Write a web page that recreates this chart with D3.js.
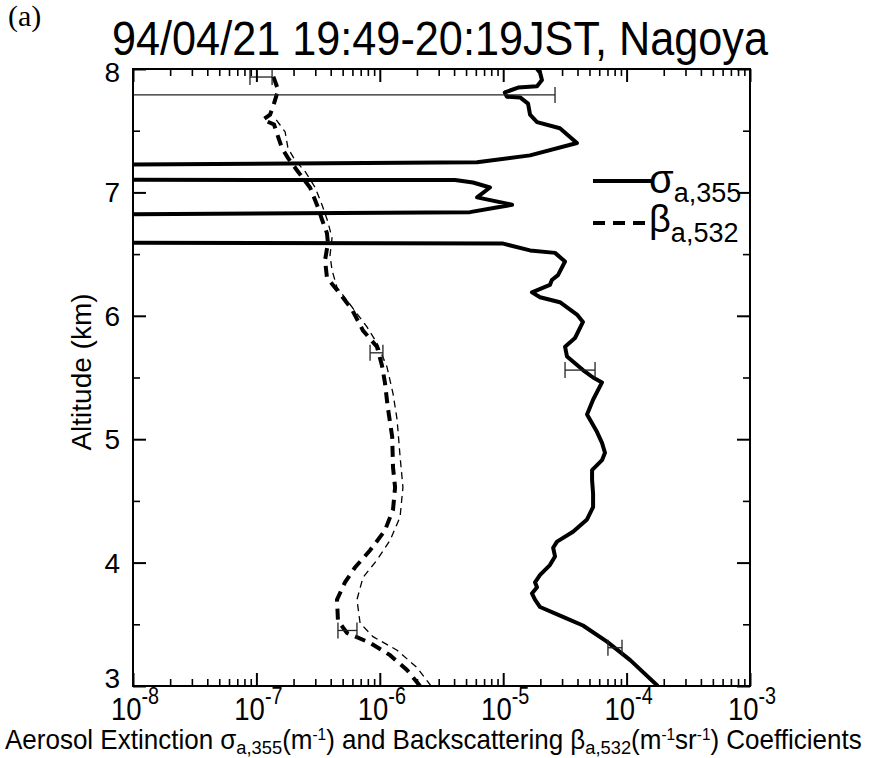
<!DOCTYPE html>
<html>
<head>
<meta charset="utf-8">
<script src="https://cdn.jsdelivr.net/npm/d3@7"></script>
<style>
  html, body { margin: 0; padding: 0; background: #fff; }
  svg { display: block; }
  text { font-family: "Liberation Sans", Arial, Helvetica, sans-serif; fill: #000; }
</style>
</head>
<body>
<svg id="chart" width="869" height="758"></svg>
<script>
// ---------------- data ----------------
const titleText = "94/04/21 19:49-20:19JST, Nagoya";
const panelLabel = "(a)";
const xTickValues = [1e-8, 1e-7, 1e-6, 1e-5, 1e-4, 1e-3];
const xTickExponents = ["-8", "-7", "-6", "-5", "-4", "-3"];
const yTickValues = [3, 4, 5, 6, 7, 8];
const yMinorValues = [3.5, 4.5, 5.5, 6.5, 7.5];

// Extinction sigma_a,355 (m^-1): altitude (km) and value; 1e-12 marks values below the axis (off-scale)
const sigmaAlt = [3.00,3.21,3.36,3.49,3.56,3.64,3.70,3.75,3.80,3.84,3.90,3.98,4.05,4.12,4.17,4.25,4.35,4.45,4.56,4.67,4.75,4.83,4.89,4.97,5.06,5.20,5.32,5.46,5.50,5.56,5.67,5.75,5.82,5.95,6.01,6.11,6.15,6.19,6.25,6.29,6.33,6.44,6.51,6.53,6.585,6.60,6.80,6.84,6.90,6.96,7.04,7.08,7.10,7.105,7.20,7.245,7.30,7.40,7.52,7.57,7.63,7.72,7.77,7.775,7.81,7.85,7.86,7.91,7.97,8.00];
const sigmaVal = [1.79e-4,1.07e-4,6.93e-5,4.43e-5,3.05e-5,1.99e-5,1.81e-5,1.71e-5,1.88e-5,1.81e-5,1.99e-5,2.39e-5,2.63e-5,2.54e-5,2.73e-5,3.68e-5,4.78e-5,5.35e-5,5.35e-5,5.25e-5,5.25e-5,6.32e-5,6.68e-5,6.32e-5,5.75e-5,4.78e-5,5.35e-5,6.32e-5,5.35e-5,4.43e-5,3.29e-5,3.17e-5,3.82e-5,4.43e-5,3.96e-5,2.88e-5,1.99e-5,1.71e-5,2.39e-5,2.48e-5,2.78e-5,3.17e-5,2.63e-5,1.65e-5,1.0e-5,1e-12,1e-12,5.38e-6,1.18e-5,6.14e-6,7.81e-6,5.69e-6,4.07e-6,1e-12,1e-12,6.14e-6,1.65e-5,3.96e-5,2.88e-5,1.88e-5,1.65e-5,1.59e-5,1.37e-5,1.07e-5,1.03e-5,1.32e-5,1.88e-5,2.06e-5,1.99e-5,1.88e-5];

// Backscattering beta_a,532 (m^-1 sr^-1), thick dashed
const betaAlt = [3.00,3.13,3.25,3.35,3.43,3.53,3.70,3.84,3.96,4.10,4.26,4.43,4.61,4.77,5.02,5.26,5.46,5.60,5.75,5.88,6.05,6.18,6.31,6.45,6.59,6.67,6.78,6.88,7.04,7.18,7.28,7.36,7.45,7.55,7.59,7.63,7.69,7.83,7.95];
const betaVal = [2.12e-6,1.66e-6,1.21e-6,8.34e-7,5.42e-7,4.58e-7,4.50e-7,5.22e-7,6.29e-7,8.34e-7,1.10e-6,1.28e-6,1.33e-6,1.28e-6,1.26e-6,1.16e-6,1.10e-6,1.04e-6,9.48e-7,7.31e-7,5.96e-7,4.75e-7,3.73e-7,3.60e-7,3.80e-7,3.73e-7,3.40e-7,3.15e-7,2.72e-7,2.13e-7,1.80e-7,1.61e-7,1.50e-7,1.39e-7,1.13e-7,1.29e-7,1.36e-7,1.50e-7,1.36e-7];

// Second backscattering profile, thin dashed
const beta2Alt = [3.00,3.15,3.29,3.40,3.51,3.70,3.88,4.02,4.18,4.37,4.61,4.86,5.16,5.37,5.59,5.78,5.91,6.07,6.23,6.37,6.49,6.63,6.76,6.90,7.04,7.17,7.26,7.36,7.49,7.60];
const beta2Val = [2.60e-6,2.00e-6,1.38e-6,8.81e-7,6.92e-7,6.53e-7,7.31e-7,9.48e-7,1.21e-6,1.46e-6,1.54e-6,1.46e-6,1.38e-6,1.28e-6,1.14e-6,9.48e-7,7.87e-7,5.96e-7,4.50e-7,4.10e-7,3.95e-7,4.10e-7,3.80e-7,3.40e-7,2.99e-7,2.48e-7,2.06e-7,1.80e-7,1.71e-7,1.42e-7];

// Error bars
const sigmaErrAlt = [3.31, 5.56, 7.79];
const sigmaErrLo  = [7.06e-5, 3.17e-5, 1e-12];
const sigmaErrHi  = [9.18e-5, 5.55e-5, 2.63e-5];
const betaErrAlt = [3.45, 5.70, 7.935];
const betaErrLo  = [4.58e-7, 8.34e-7, 8.87e-8];
const betaErrHi  = [6.53e-7, 1.06e-6, 1.34e-7];

// ---------------- layout ----------------
const svg = d3.select("#chart");
const L = 133, R = 750, T = 69, B = 686;
const x = d3.scaleLog().domain([1e-8, 1e-3]).range([L, R]);
const y = d3.scaleLinear().domain([3, 8]).range([B, T]);

// title
svg.append("text").attr("x", 112).attr("y", 55)
  .attr("font-size", 48).attr("textLength", 656).attr("lengthAdjust", "spacingAndGlyphs")
  .text(titleText);
svg.append("text").attr("x", 8).attr("y", 26)
  .style("font-family", '"Liberation Serif", "Times New Roman", serif')
  .attr("font-size", 30).text(panelLabel);

// clip
svg.append("defs").append("clipPath").attr("id", "plotclip")
  .append("rect").attr("x", L).attr("y", T).attr("width", R - L).attr("height", B - T);

const plot = svg.append("g").attr("clip-path", "url(#plotclip)");

const lineGen = d3.line().x(d => x(d[1])).y(d => y(d[0]));
const zipper = (a, v) => a.map((al, i) => [al, v[i]]);

plot.append("path").datum(zipper(beta2Alt, beta2Val))
  .attr("d", lineGen).attr("fill", "none").attr("stroke", "#000")
  .attr("stroke-width", 1.3).attr("stroke-dasharray", "7,5");
plot.append("path").datum(zipper(betaAlt, betaVal))
  .attr("d", lineGen).attr("fill", "none").attr("stroke", "#000")
  .attr("stroke-width", 4).attr("stroke-dasharray", "11,7");
plot.append("path").datum(zipper(sigmaAlt, sigmaVal))
  .attr("d", lineGen).attr("fill", "none").attr("stroke", "#000")
  .attr("stroke-width", 4).attr("stroke-linejoin", "round");

function errBars(alts, lo, hi) {
  alts.forEach((a, i) => {
    const g = plot.append("g").attr("stroke", "#222").attr("stroke-width", 1.3);
    g.append("line").attr("x1", x(lo[i])).attr("x2", x(hi[i])).attr("y1", y(a)).attr("y2", y(a));
    [lo[i], hi[i]].forEach(v => {
      g.append("line").attr("x1", x(v)).attr("x2", x(v)).attr("y1", y(a) - 8).attr("y2", y(a) + 8);
    });
  });
}
errBars(sigmaErrAlt, sigmaErrLo, sigmaErrHi);
errBars(betaErrAlt, betaErrLo, betaErrHi);

// axes (ticks inward on all four sides)
const xMinor = x.ticks().filter(v => !xTickValues.some(m => Math.abs(Math.log10(v) - Math.log10(m)) < 1e-6));
function styleAxis(g, w) {
  g.select(".domain").remove();
  g.selectAll("line").attr("stroke", "#000").attr("stroke-width", w);
  g.selectAll("text").remove();
}
svg.append("g").attr("transform", `translate(0,${B})`)
  .call(d3.axisBottom(x).tickValues(xTickValues).tickSize(-13).tickFormat(""))
  .call(g => styleAxis(g, 2));
svg.append("g").attr("transform", `translate(0,${B})`)
  .call(d3.axisBottom(x).tickValues(xMinor).tickSize(-7).tickFormat(""))
  .call(g => styleAxis(g, 1.6));
svg.append("g").attr("transform", `translate(0,${T})`)
  .call(d3.axisTop(x).tickValues(xTickValues).tickSize(-13).tickFormat(""))
  .call(g => styleAxis(g, 2));
svg.append("g").attr("transform", `translate(0,${T})`)
  .call(d3.axisTop(x).tickValues(xMinor).tickSize(-7).tickFormat(""))
  .call(g => styleAxis(g, 1.6));
svg.append("g").attr("transform", `translate(${L},0)`)
  .call(d3.axisLeft(y).tickValues(yTickValues).tickSize(-13).tickFormat(""))
  .call(g => styleAxis(g, 2));
svg.append("g").attr("transform", `translate(${L},0)`)
  .call(d3.axisLeft(y).tickValues(yMinorValues).tickSize(-7).tickFormat(""))
  .call(g => styleAxis(g, 1.6));
svg.append("g").attr("transform", `translate(${R},0)`)
  .call(d3.axisRight(y).tickValues(yTickValues).tickSize(-13).tickFormat(""))
  .call(g => styleAxis(g, 2));
svg.append("g").attr("transform", `translate(${R},0)`)
  .call(d3.axisRight(y).tickValues(yMinorValues).tickSize(-7).tickFormat(""))
  .call(g => styleAxis(g, 1.6));

svg.append("rect").attr("x", L).attr("y", T).attr("width", R - L).attr("height", B - T)
  .attr("fill", "none").attr("stroke", "#000").attr("stroke-width", 2);

// x tick labels
xTickValues.forEach((v, i) => {
  const t = svg.append("text")
    .attr("transform", `translate(${x(v) + 2},720) scale(0.86,1)`)
    .attr("text-anchor", "middle").attr("font-size", 32);
  t.append("tspan").text("10");
  t.append("tspan").attr("dy", -16).attr("font-size", 23).text(xTickExponents[i]);
});

// y tick labels (end labels nudged inside, as in the original)
yTickValues.forEach(v => {
  svg.append("text").attr("x", 120).attr("y", Math.max(T + 13, Math.min(y(v) + 10, B + 2)))
    .attr("text-anchor", "end").attr("font-size", 28).text(String(v));
});

// y axis title
svg.append("text")
  .attr("transform", `translate(91,372) rotate(-90)`)
  .attr("text-anchor", "middle").attr("font-size", 28).text("Altitude (km)");

// x axis title with sub/superscripts, condensed to width
const xt = svg.append("text").attr("font-size", 27);
const parts = [
  ["Aerosol Extinction σ", 0, null],
  ["a,355", 5, 19],
  ["(m", -5, null],
  ["-1", -9, 16],
  [") and Backscattering β", 9, null],
  ["a,532", 5, 19],
  ["(m", -5, null],
  ["-1", -9, 16],
  ["sr", 9, null],
  ["-1", -9, 16],
  [") Coefficients", 9, null]
];
parts.forEach(p => {
  const ts = xt.append("tspan").text(p[0]);
  if (p[1]) ts.attr("dy", p[1]);
  if (p[2]) ts.attr("font-size", p[2]);
});
const w = xt.node().getComputedTextLength();
xt.attr("transform", `translate(5,749) scale(${857 / w},1)`);

// legend
const lg = svg.append("g");
lg.append("line").attr("x1", 593).attr("x2", 651).attr("y1", 181).attr("y2", 181)
  .attr("stroke", "#000").attr("stroke-width", 4);
lg.append("line").attr("x1", 593).attr("x2", 650).attr("y1", 223).attr("y2", 223)
  .attr("stroke", "#000").attr("stroke-width", 4).attr("stroke-dasharray", "12,8");
const l1 = lg.append("text").attr("x", 649).attr("y", 193).attr("font-size", 40);
l1.append("tspan").text("σ");
l1.append("tspan").attr("dy", 9).attr("font-size", 27).text("a,355");
const l2 = lg.append("text").attr("x", 649).attr("y", 232).attr("font-size", 38);
l2.append("tspan").text("β");
l2.append("tspan").attr("dy", 10).attr("font-size", 27).text("a,532");
</script>
</body>
</html>
